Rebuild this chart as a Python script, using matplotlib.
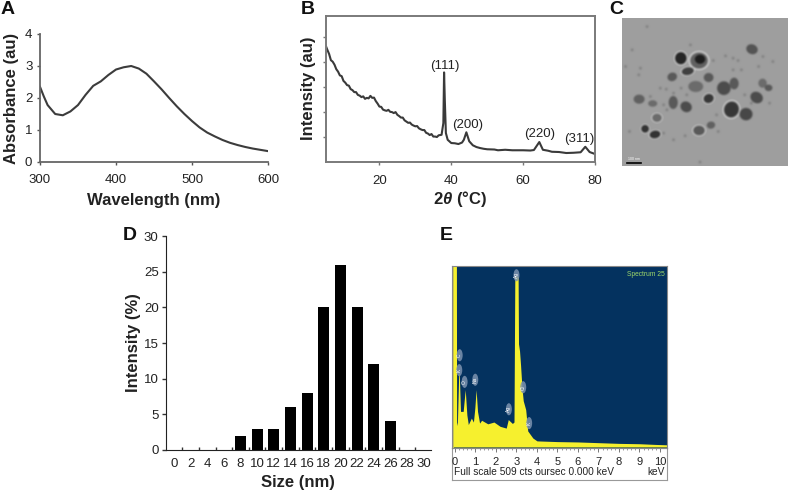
import numpy as np
import matplotlib
matplotlib.use('Agg')
import matplotlib.pyplot as plt
from matplotlib.patches import Ellipse

plt.rcParams['font.family'] = ['Liberation Sans', 'DejaVu Sans']
plt.rcParams['mathtext.fontset'] = 'custom'
plt.rcParams['mathtext.bf'] = 'Liberation Sans:bold'
plt.rcParams['mathtext.it'] = 'Liberation Sans:italic:bold'

W, H = 789, 491

# A - absorbance
wavelength = [300, 305, 310, 320, 330, 340, 350, 360, 370, 380, 390, 400, 410, 420, 430, 440, 450,
              460, 470, 480, 490, 500, 510, 520, 530, 540, 550, 560, 570, 580, 590, 600]
absorbance = [2.35, 2.05, 1.78, 1.5, 1.46, 1.58, 1.78, 2.1, 2.38, 2.52, 2.72, 2.89, 2.96, 3.0, 2.92,
              2.76, 2.52, 2.27, 2.0, 1.74, 1.5, 1.28, 1.08, 0.92, 0.8, 0.69, 0.6, 0.53, 0.47, 0.42, 0.38, 0.34]

# B - XRD
two_theta = [5, 5.5, 6, 6.5, 7, 7.5, 8, 8.5, 9, 9.5, 10, 10.5, 11, 11.5, 12, 12.5, 13, 13.5, 14, 14.5, 15, 15.5,
             16, 16.5, 17, 17.5, 18, 18.5, 19, 19.5, 20, 20.5, 21, 21.5, 22, 22.5, 23, 23.5, 24, 24.5, 25, 25.5,
             26, 26.5, 27, 27.5, 28, 28.5, 29, 29.5, 30, 30.5, 31, 31.5, 32, 32.5, 33, 33.5, 34, 34.5, 35, 35.5,
             36, 36.5, 37.3, 37.8, 38.0, 38.2, 38.5, 39, 40, 41, 42, 43, 43.5, 44.2, 45, 46, 47, 48, 49, 50,
             52, 53, 55, 57, 60, 62, 63, 64.5, 65.5, 67, 68, 70, 72, 74, 76, 77.3, 78.5, 80]
xrd = [4.69, 4.5, 4.33, 4.08, 4.02, 3.9, 3.72, 3.62, 3.47, 3.44, 3.25, 3.18, 3.08, 3.06, 2.92, 2.88, 2.8, 2.8,
       2.69, 2.66, 2.6, 2.63, 2.53, 2.57, 2.55, 2.65, 2.57, 2.58, 2.44, 2.34, 2.22, 2.21, 2.1, 2.07, 2.05, 2.09,
       2.01, 2.0, 1.96, 2.0, 1.89, 1.84, 1.78, 1.78, 1.67, 1.62, 1.57, 1.58, 1.5, 1.46, 1.43, 1.44, 1.35, 1.31,
       1.28, 1.28, 1.17, 1.14, 1.08, 1.12, 1.02, 1.02, 1.0, 1.07, 1.09, 1.56, 3.59, 2.5, 1.16,
       0.89, 0.76, 0.75, 0.72, 0.78, 0.89, 1.19, 0.83, 0.67, 0.6, 0.56, 0.53, 0.51,
       0.5, 0.47, 0.49, 0.47, 0.47, 0.46, 0.48, 0.8, 0.49, 0.45, 0.41, 0.4, 0.36, 0.37, 0.39, 0.61, 0.4, 0.32]
peak_labels = ['(111)', '(200)', '(220)', '(311)']
peak_x = [38.3, 44.5, 64.5, 75.5]
peak_y = [3.62, 1.26, 0.88, 0.68]

# C - TEM particles: x, y, width, height, angle, grey, halo
particles = [
    (227, 175, 36, 38, 0, .15, 1), (282, 182, 55, 50, 0, .38, 1), (285, 178, 32, 28, 0, .12, 0),
    (442, 148, 36, 30, 20, .33, 0), (248, 214, 38, 24, -10, .25, 1), (201, 231, 30, 26, -20, .35, 0),
    (311, 233, 30, 28, 0, .35, 0), (272, 260, 46, 34, 0, .42, 0), (357, 265, 42, 42, 0, .3, 0),
    (388, 251, 28, 36, 0, .35, 0), (474, 250, 26, 28, 0, .42, 0), (492, 264, 24, 20, 0, .35, 0),
    (456, 293, 40, 34, 30, .3, 0), (311, 296, 32, 28, -20, .22, 1), (101, 298, 34, 28, 0, .38, 0),
    (142, 311, 28, 20, 0, .42, 0), (204, 308, 28, 40, 0, .35, 0), (243, 321, 36, 32, 30, .3, 0),
    (380, 329, 46, 50, 20, .22, 1), (424, 343, 40, 38, 0, .28, 0), (155, 354, 30, 26, 0, .42, 1),
    (119, 387, 24, 24, 0, .2, 1), (149, 404, 34, 24, -10, .2, 1), (282, 392, 36, 30, 0, .35, 1),
    (318, 376, 26, 22, -10, .38, 0),
]
dots_x = [60, 105, 100, 80, 125, 165, 183, 205, 228, 245, 256, 325, 335, 362, 385, 400, 385, 410, 420, 440, 475,
          495, 505, 135, 175, 185, 175, 205, 240, 285, 340, 72, 462]
dots_y = [200, 205, 225, 150, 80, 265, 268, 280, 265, 285, 135, 182, 345, 168, 175, 182, 210, 210, 285, 310, 170,
          310, 185, 290, 315, 330, 400, 420, 408, 487, 395, 395, 200]

# D - size distribution
sizes = ['0', '2', '4', '6', '8', '10', '12', '14', '16', '18', '20', '22', '24', '26', '28', '30']
intensity = [0, 0, 0, 0, 2, 3, 3, 6, 8, 20, 26, 20, 12, 4, 0, 0]

# E - EDX
energy = [-0.16, 0.07, 0.08, 0.12, 0.18, 0.2, 0.23, 0.27, 0.4, 0.5, 0.58, 0.65, 0.8, 0.9, 0.97, 1.03, 1.1, 1.2, 1.3, 1.6,
          1.9, 2.2, 2.5, 2.6, 2.8, 2.88, 2.92, 3.08, 3.1, 3.15, 3.2, 3.27, 3.33, 3.45, 3.55, 3.8, 4, 5, 6, 7, 8, 9, 9.8, 10.33]
counts = [509, 509, 60, 70, 200, 226, 170, 100, 100, 161, 90, 63, 81, 70, 110, 161, 100, 67, 75, 65,
          70, 58, 53, 77, 66, 70, 480, 480, 290, 270, 230, 165, 130, 105, 45, 25, 17, 15, 14, 12, 10, 9, 7, 6]
edx_labels = ['C', 'K', 'O', 'Na', 'Ag', 'Cl', 'K', 'Ag']
edx_x = [0.23, 0.21, 0.47, 0.99, 2.63, 3.33, 3.62, 3.0]
edx_y = [258, 216, 183, 189, 106, 168, 67, 483]


def ax_at(left, top, right, bottom):
    return fig.add_axes([left / W, 1 - bottom / H, (right - left) / W, (bottom - top) / H])


def panel_letter(x, y, s):
    fig.text(x / W, 1 - y / H, s, fontsize=14, fontweight='bold', va='baseline', color='#111111')


def soften(a, n=5):
    kernel = np.ones(n) / n
    a = np.apply_along_axis(lambda r: np.convolve(r, kernel, mode='same'), 0, np.pad(a, n, mode='edge'))
    a = np.apply_along_axis(lambda r: np.convolve(r, kernel, mode='same'), 1, a)
    return a[n:-n, n:-n]


fig = plt.figure(figsize=(W / 100, H / 100), dpi=100)

# panel A
ax = ax_at(40, 34, 268, 162)
ax.plot(wavelength, absorbance, color='#3c3c3c', lw=1.5)
ax.set_xlim(300, 600)
ax.set_ylim(0, 4)
ax.set_xticks([300, 400, 500, 600])
ax.set_yticks([0, 1, 2, 3, 4])
ax.tick_params(labelsize=9.5, length=2.5, width=1, color='#555555', pad=3, labelcolor='#222222')
ax.tick_params(axis='x', pad=6)
for s in ['top', 'right']:
    ax.spines[s].set_visible(False)
for s in ['left', 'bottom']:
    ax.spines[s].set_color('#666666')
    ax.spines[s].set_linewidth(1.3)
ax.set_xlabel('Wavelength (nm)', fontsize=12, fontweight='bold', labelpad=5, color='#222222')
ax.set_ylabel('Absorbance (au)', fontsize=12, fontweight='bold', labelpad=4, color='#222222')

# panel B
ax = ax_at(325.5, 15.5, 595, 162)
ax.plot(two_theta, xrd, color='#3a3a3a', lw=1.5)
ax.set_xlim(5, 80)
ax.set_ylim(0, 5.87)
ax.set_xticks([20, 40, 60, 80])
ax.set_yticks([1, 2, 3, 4, 5])
ax.set_yticklabels([])
ax.tick_params(labelsize=9.5, length=2, width=1, color='#777777', pad=4, labelcolor='#222222')
ax.tick_params(axis='x', pad=7.5)
for s in ax.spines.values():
    s.set_color('#7a7a7a')
    s.set_linewidth(1.4)
for lab, px, py in zip(peak_labels, peak_x, peak_y):
    ax.text(px, py, lab, fontsize=9.5, ha='center', va='bottom', color='#222222')
ax.set_xlabel(r'$\mathbf{2}\mathit{\theta}$ (°C)', fontsize=12, fontweight='bold', labelpad=1.5, color='#222222')
ax.set_ylabel('Intensity (au)', fontsize=12, fontweight='bold', labelpad=0.5, color='#222222')

# panel C
ax = ax_at(622, 18, 788, 166)
gx, gy = np.meshgrid(np.linspace(50, 550, 332), np.linspace(55, 498, 296))
img = np.full(gx.shape, 0.62)
for dx, dy in zip(dots_x, dots_y):
    img -= 0.12 * np.clip(1.3 - np.hypot(gx - dx, gy - dy) / 5, 0, 1)
for cx, cy, w, h, ang, grey, halo in particles:
    t = np.deg2rad(ang)
    u = (gx - cx) * np.cos(t) + (gy - cy) * np.sin(t)
    v = -(gx - cx) * np.sin(t) + (gy - cy) * np.cos(t)
    r = np.hypot(u / (w / 2), v / (h / 2))
    if halo:
        m = np.clip((1.2 - r) / 0.08, 0, 1)
        img = img * (1 - m) + 0.82 * m
    m = np.clip((1.05 - r) / 0.15, 0, 1)
    img = img * (1 - m) + grey * m
img = soften(img)
ax.imshow(img, cmap='gray', vmin=0, vmax=1, extent=(50, 550, 498, 55), aspect='auto', interpolation='bilinear')
ax.plot([65, 108], [488, 488], color='black', lw=1.2)
ax.text(86, 482, '100 nm', fontsize=2.5, ha='center', va='bottom', color='white')
ax.set_xticks([])
ax.set_yticks([])
for s in ax.spines.values():
    s.set_visible(False)

# panel D
ax = ax_at(165.6, 236, 431, 450)
pos = np.arange(len(sizes))
ax.bar(pos, intensity, width=0.66, color='black')
ax.set_xlim(-0.5, 15.44)
ax.set_ylim(0, 30)
ax.set_xticks(pos)
ax.set_xticklabels(sizes)
ax.tick_params(axis='x', length=0, labelsize=9.5, pad=6, labelcolor='#222222')
ax.set_xticks(pos[:-1] + 0.5, minor=True)
ax.tick_params(axis='x', which='minor', direction='in', length=2, width=1, color='#333333')
ax.set_yticks([0, 5, 10, 15, 20, 25, 30])
ax.tick_params(axis='y', labelsize=9.5, length=3, width=1, color='#333333', pad=2, labelcolor='#222222')
for s in ['top', 'right']:
    ax.spines[s].set_visible(False)
for s in ['left', 'bottom']:
    ax.spines[s].set_color('#222222')
ax.set_xlabel('Size (nm)', fontsize=12, fontweight='bold', labelpad=3, color='#222222')
ax.set_ylabel('Intensity (%)', fontsize=12, fontweight='bold', labelpad=2, color='#222222')

# panel E
strip = ax_at(451.7, 448, 666.7, 480)
strip.set_xticks([])
strip.set_yticks([])
for s in strip.spines.values():
    s.set_color('#999999')
strip.text(0.012, 0.08, 'Full scale 509 cts oursec 0.000 keV', transform=strip.transAxes, fontsize=7.3, va='bottom', color='#222222')
strip.text(0.99, 0.08, 'keV', transform=strip.transAxes, fontsize=7.3, ha='right', va='bottom', color='#222222')

ax = ax_at(451.7, 266, 666.7, 448)
ax.set_facecolor('#04325f')
ax.fill_between(energy, counts, 0, color='#f6f02e', lw=0)
ax.axvspan(-0.16, -0.05, color='#c9c84a', lw=0)
ax.set_xlim(-0.16, 10.33)
ax.set_ylim(-3, 509)
ax.set_xticks(range(11))
ax.set_xticks(np.arange(0, 10.01, 0.2), minor=True)
ax.set_yticks([])
ax.tick_params(axis='x', labelsize=8, length=3, width=0.7, color='#777777', pad=3.5, labelcolor='#222222')
ax.tick_params(axis='x', which='minor', length=1.5, width=0.5, color='#777777')
for s in ax.spines.values():
    s.set_color('#888888')
for lab, ex, ey in zip(edx_labels, edx_x, edx_y):
    ax.add_patch(Ellipse((ex, ey), 0.29, 34, fc='#7d93b0', ec='none', alpha=0.85, zorder=3))
    ax.text(ex, ey, lab, fontsize=3.5, rotation=90, ha='center', va='center', color='white', zorder=4)
ax.text(0.99, 0.975, 'Spectrum 25', transform=ax.transAxes, fontsize=4.8, ha='right', va='top', color='#9fd86a')

panel_letter(1, 14, 'A')
panel_letter(301, 14, 'B')
panel_letter(609, 14, 'C')
panel_letter(123, 240, 'D')
panel_letter(440, 240, 'E')

fig.savefig('out.png', dpi=100)
